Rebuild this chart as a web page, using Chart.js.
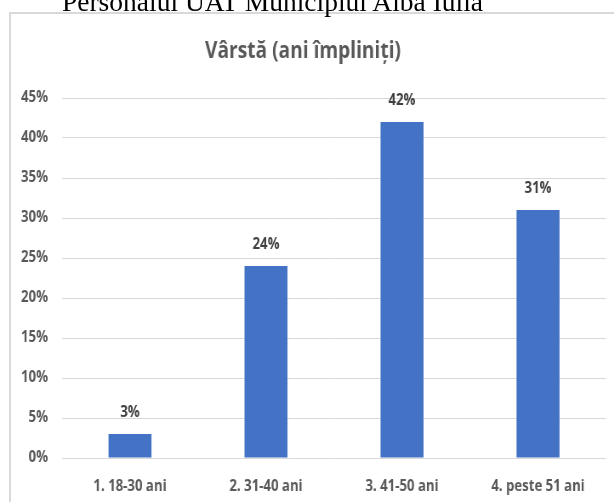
<!DOCTYPE html>
<html><head><meta charset="utf-8">
<script src="https://cdn.jsdelivr.net/npm/chart.js@4"></script>
<style>
html,body{margin:0;padding:0;background:#fff;overflow:hidden;width:614px;height:502px}
#doc{position:absolute;left:0;top:-14px;width:545px;text-align:center;font-family:"Liberation Serif","Times New Roman",serif;font-size:27.5px;color:#000;white-space:nowrap;z-index:2}
#box{position:absolute;left:9px;top:12px;width:640px;height:540px;border:2px solid #d9d9d9;box-sizing:border-box}
#wrap{position:absolute;left:0;top:0;width:614px;height:502px}
#c{width:614px;height:502px;display:block}
</style></head><body>
<div id="box"></div>
<div id="wrap"><canvas id="c" width="722" height="502" style="width:614px;height:502px"></canvas></div>
<div id="doc">Personalul UAT Municipiul Alba Iulia</div>
<script>
const chartTitle = "Vârstă (ani împliniți)";
const categories = ["1. 18-30 ani", "2. 31-40 ani", "3. 41-50 ani", "4. peste 51 ani"];
const values = [0.03, 0.24, 0.42, 0.31];
const yTicks = [0, 0.05, 0.10, 0.15, 0.20, 0.25, 0.30, 0.35, 0.40, 0.45];

const FONT = '"Open Sans", "DejaVu Sans", sans-serif';
const pct = v => Math.round(v * 100) + '%';

const labelPlugin = {
  id: 'barLabels',
  afterDatasetsDraw(chart) {
    const ctx = chart.ctx;
    const meta = chart.getDatasetMeta(0);
    ctx.save();
    ctx.font = 'bold 15.5px ' + FONT;
    ctx.fillStyle = '#404040';
    ctx.textAlign = 'center';
    ctx.textBaseline = 'middle';
    meta.data.forEach((bar, i) => {
      ctx.fillText(pct(values[i]), bar.x, bar.y - 21);
    });
    ctx.restore();
  }
};

new Chart(document.getElementById('c'), {
  type: 'bar',
  data: {
    labels: categories,
    datasets: [{
      data: values,
      backgroundColor: '#4472C4',
      categoryPercentage: 1,
      barPercentage: 0.316
    }]
  },
  options: {
    responsive: false,
    animation: false,
    devicePixelRatio: 1,
    layout: { padding: { left: 0, right: 9.4, top: 0, bottom: 0 } },
    plugins: {
      legend: { display: false },
      tooltip: { enabled: false },
      title: {
        display: true,
        text: chartTitle,
        color: '#595959',
        font: { family: FONT, size: 22.5, weight: 'bold', lineHeight: 1.2 },
        padding: { top: 38, bottom: 33 }
      }
    },
    scales: {
      x: {
        grid: { display: false },
        border: { display: false },
        ticks: { color: '#595959', font: { family: FONT, size: 15.5, weight: 'bold' }, padding: 11, maxRotation: 0 },
        afterFit(s) { s.height = 44; }
      },
      y: {
        min: 0, max: 0.45,
        afterBuildTicks(s) { s.ticks = yTicks.map(v => ({ value: v })); },
        grid: { color: '#d9d9d9', lineWidth: 1, drawTicks: false },
        border: { display: false },
        ticks: { color: '#595959', font: { family: FONT, size: 15.5, weight: 'bold' }, padding: 16.5, callback: v => pct(v) },
        afterFit(s) { s.width = 72.9; }
      }
    }
  },
  plugins: [labelPlugin]
});
</script>
</body></html>
